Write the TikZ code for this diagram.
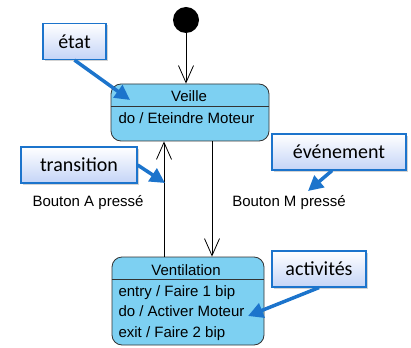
\documentclass[tikz,border=0pt]{standalone}
\usepackage{fontspec}
\setmainfont{Liberation Sans}
\newfontfamily\notefont{Carlito}
\usetikzlibrary{arrows.meta,shadows}

\definecolor{statebg}{RGB}{125,208,242}
\definecolor{noteblue}{RGB}{28,116,204}
\definecolor{notebg}{RGB}{196,212,247}

\tikzset{
  etatbox/.style={draw=black!80, fill=statebg, rounded corners=10pt, line width=0.8pt},
  note/.style={draw=noteblue, line width=1.2pt, top color=white, bottom color=notebg,
    drop shadow={opacity=0.35, shadow xshift=2pt, shadow yshift=-2pt},
    font=\notefont\fontsize{20}{24}\selectfont, minimum height=36pt},
  pointer/.style={noteblue, line width=3.5pt, -{Triangle[length=15pt,width=15pt]}},
  trans/.style={line width=0.8pt, -{Straight Barb[length=17pt,width=15pt]}}
}

\begin{document}
\begin{tikzpicture}[x=1pt,y=-1pt, every node/.style={font=\fontsize{15}{18}\selectfont}]
\useasboundingbox (0,0) rectangle (411,347);

\node[circle, fill=black, minimum size=26pt, inner sep=0pt] (init) at (186,20) {};

% states
\node[etatbox, minimum width=158pt, minimum height=57pt] (veille) at (190,112.5) {};
\node[anchor=base] (veilleT) at (189,101.7) {Veille};
\draw[black!80, line width=0.8pt] ([yshift=-23pt]veille.north west) -- ([yshift=-23pt]veille.north east);
\node[anchor=base west] (veilleDo) at (115,123.3) {do / Eteindre Moteur};

\node[etatbox, minimum width=152pt, minimum height=88pt] (vent) at (188,301) {};
\node[anchor=base] (ventT) at (186,275.7) {Ventilation};
\draw[black!80, line width=0.8pt] ([yshift=-23pt]vent.north west) -- ([yshift=-23pt]vent.north east);
\node[anchor=base west] (entry) at (115,296.3) {entry / Faire 1 bip};
\node[anchor=base west] (doact) at (115,316.7) {do / Activer Moteur};
\node[anchor=base west] (exit) at (115,337.3) {exit / Faire 2 bip};

% transitions
\coordinate (a) at (164,0);
\coordinate (m) at (212,0);
\draw[trans] (init) -- (veille.north -| init);
\draw[trans] (vent.north -| a) -- (veille.south -| a);
\draw[trans] (veille.south -| m) -- (vent.north -| m);
\node (btnA) at (88,203) {Bouton A pressé};
\node (btnM) at (289,203) {Bouton M pressé};

% notes
\node[note, minimum width=63pt] (nEtat) at (74.5,41.5) {état};
\node[note, minimum width=116pt] (nTrans) at (79,165) {transition};
\node[note, minimum width=134pt] (nEvt) at (339,152) {événement};
\node[note, minimum width=94pt] (nAct) at (319,269) {activités};

\coordinate (pEtat) at (130,100);
\coordinate (pTrans) at (165,183);
\coordinate (pEvt) at (308,191);
\coordinate (pAct) at (248,316);
\draw[pointer] (nEtat.south) -- (pEtat);
\draw[pointer] (nTrans.east) -- (pTrans);
\draw[pointer] ([xshift=-7pt]nEvt.south) -- (pEvt);
\draw[pointer] (nAct.south) -- (pAct);
\end{tikzpicture}
\end{document}
